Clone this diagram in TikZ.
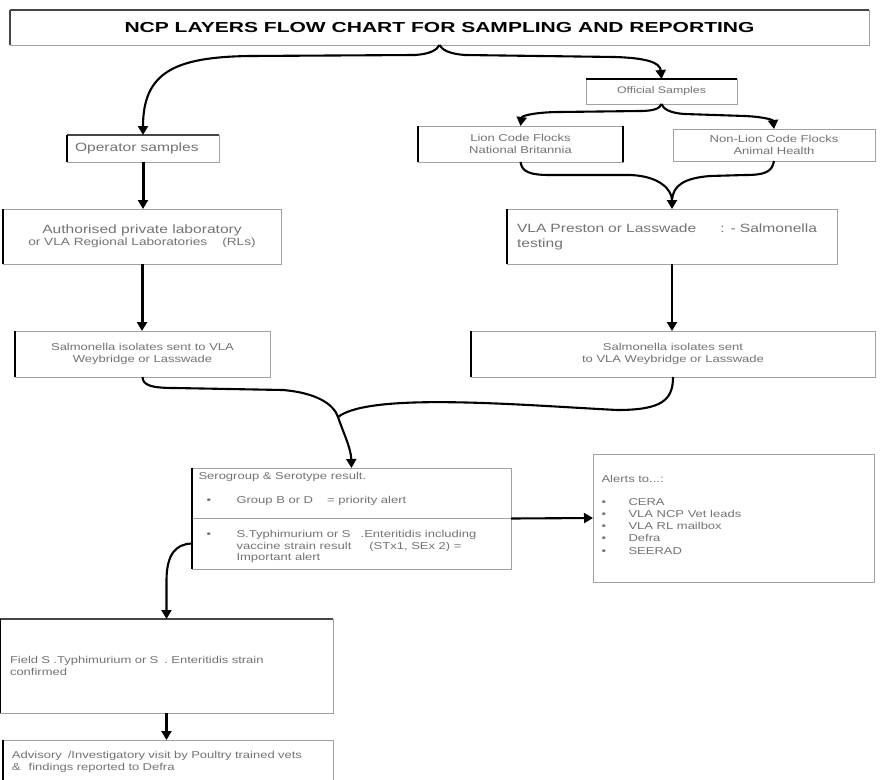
\documentclass[tikz,border=0pt]{standalone}
\usepackage{fontspec}
\setmainfont[FakeStretch=1.3]{Liberation Sans}
\newfontfamily\titlefont[FakeStretch=1.45]{Liberation Sans}
\usetikzlibrary{
  arrows.meta,
  positioning,
  calc
}
\definecolor{boxline}{RGB}{165,160,160}
\definecolor{txtgray}{RGB}{115,115,115}
\definecolor{edgedark}{RGB}{70,70,70}

\begin{document}
\begin{tikzpicture}[
            x=1pt, y=-1pt,
            box/.style={draw=boxline, line width=0.8pt, anchor=north west, inner sep=0pt, outer sep=0pt, text=txtgray, align=center},
            fbig/.style={font=\fontsize{12}{15}\selectfont},
            fmid/.style={font=\fontsize{10}{11.5}\selectfont},
            fsml/.style={font=\fontsize{9.5}{11}\selectfont},
            link/.style={line width=2.1pt},
            arr/.style={link, -{Triangle[width=10pt,length=9pt]}},
            bar/.style={line width=2.2pt}
        ]
            \path[use as bounding box, fill=white] (0,0) rectangle (880,779);
            % NCP sampling and reporting flow chart
            \node[box, minimum width=859pt, minimum height=35pt, text=black, font=\titlefont\bfseries\fontsize{14.5}{17}\selectfont] (title) at (10,10) {NCP LAYERS FLOW CHART FOR SAMPLING AND REPORTING};
            \node[box, fsml, minimum width=151pt, minimum height=25pt] (off) at (586,79) {Official Samples};
            \node[box, fbig, minimum width=152pt, minimum height=27pt, text width=136pt, align=left] (op) at (67,135) {Operator samples};
            \node[box, fmid, minimum width=205pt, minimum height=36pt] (lion) at (418,126) {Lion Code Flocks\\National Britannia};
            \node[box, fmid, minimum width=202pt, minimum height=32pt] (nlion) at (673,129) {Non-Lion Code Flocks\\Animal Health};
            \node[box, minimum width=278pt, minimum height=55pt] (auth) at (3,209) {{\fontsize{12}{15}\selectfont Authorised private laboratory}\\{\fontsize{10.5}{12}\selectfont or VLA Regional Laboratories\hspace{15pt}(RLs)}};
            \node[box, fbig, minimum width=330pt, minimum height=55pt, text width=310pt, align=left] (pres) at (507,209) {VLA Preston or Lasswade\hspace{24pt}: - Salmonella\\testing};
            \node[box, fmid, minimum width=255pt, minimum height=46pt] (lsal) at (15,331) {Salmonella isolates sent to VLA\\Weybridge or Lasswade};
            \node[box, fmid, minimum width=404pt, minimum height=46pt] (rsal) at (471,331) {Salmonella isolates sent\\to VLA Weybridge or Lasswade};
            \node[box, minimum width=319pt, minimum height=101pt] (sero) at (192,468) {};
            \node[box, minimum width=281pt, minimum height=128pt] (alert) at (593,454) {};
            \node[box, fmid, minimum width=333pt, minimum height=94pt, text width=313pt, align=left] (field) at (0,619) {Field S .Typhimurium or S\hspace{6pt}. Enteritidis strain\\confirmed};
            \node[box, fmid, minimum width=330pt, minimum height=44pt, text width=312pt, align=left] (adv) at (3,740) {Advisory\hspace{6pt}/Investigatory visit by Poultry trained vets\\\&\hspace{8pt}findings reported to Defra};

            % texts inside the result and alert boxes
            \node[anchor=west, text=txtgray, fmid] (shead) at (195,477) {Serogroup \& Serotype result.};
            \node[anchor=west, text=txtgray, fmid] (sone) at (203,501) {\makebox[30pt][l]{\textbullet}Group B or D\hspace{14pt}= priority alert};
            \node[anchor=north west, text=txtgray, fmid, align=left] (stwo) at (203,527) {\makebox[30pt][l]{\textbullet}S.Typhimurium or S\hspace{10pt}.Enteritidis including\\\hspace*{30pt}vaccine strain result\hspace{18pt}(STx1, SEx 2) =\\\hspace*{30pt}Important alert};
            \node[anchor=north west, text=txtgray, font=\fontsize{10}{12.3}\selectfont, align=left] (alist) at (598,472) {Alerts to...:\\[10pt]\makebox[27pt][l]{\textbullet}CERA\\\makebox[27pt][l]{\textbullet}VLA NCP Vet leads\\\makebox[27pt][l]{\textbullet}VLA RL mailbox\\\makebox[27pt][l]{\textbullet}Defra\\\makebox[27pt][l]{\textbullet}SEERAD};
            \draw[boxline, line width=0.8pt] (sero.west) -- (sero.east);

            % dark box edges
            \draw[bar, edgedark] (title.north west) -- (title.north east);
            \draw[bar, edgedark] (title.north west) -- (title.south west);
            \draw[bar] (off.north west) -- (off.north east);
            \draw[line width=1.2pt, edgedark] (op.north west) -- (op.north east);
            \draw[bar] (op.north west) -- (op.south west);
            \draw[bar] (lion.north west) -- (lion.south west);
            \draw[bar] (lion.north east) -- (lion.south east);
            \draw[bar] (auth.north west) -- (auth.south west);
            \draw[bar] (pres.north west) -- (pres.south west);
            \draw[bar] (lsal.north west) -- (lsal.south west);
            \draw[bar] (rsal.north west) -- (rsal.south west);
            \draw[bar] (sero.north west) -- (sero.south west);
            \draw[line width=1.2pt, edgedark] (field.north west) -- (field.north east);
            \draw[bar] (field.north west) -- (field.south west);
            \draw[bar] (adv.north west) -- (adv.south west);

            % connectors
            \draw[arr] (title.south) .. controls (437,50) and (430,54) .. (415,55) -- (250,56) .. controls (175,57) and (143,72) .. (op.north);
            \draw[arr] (title.south) .. controls (442,50) and (450,54) .. (465,55) -- (615,57) .. controls (645,58) and (660,62) .. (off.north);
            \draw[arr] (off.south) .. controls (660,108) and (655,111) .. (640,111) -- (560,112) .. controls (540,112) and (522,115) .. (lion.north);
            \draw[arr] (off.south) .. controls (663,108) and (668,113) .. (685,114) -- (745,116) .. controls (765,117) and (773,120) .. (nlion.north);
            \draw[arr] (lion.south) .. controls (522,172) and (530,175) .. (550,175) -- (630,175) .. controls (660,176) and (672,190) .. (pres.north);
            \draw[link] (nlion.south) .. controls (772,172) and (765,175) .. (745,175) -- (710,176) .. controls (685,178) and (673,185) .. ([yshift=9pt]pres.north);
            \draw[arr, line width=3pt] (op.south) -- (op.south |- auth.north);
            \draw[arr, line width=3pt] (auth.south) -- (auth.south |- lsal.north);
            \draw[arr] (pres.south) -- (pres.south |- rsal.north);
            \coordinate (mrg) at (338,417);
            \draw[link] (lsal.south) .. controls (143,385) and (150,388) .. (175,388) -- (283,390) .. controls (318,393) and (334,405) .. (mrg);
            \draw[link] (rsal.south) .. controls (673,400) and (662,410) .. (617,410) .. controls (520,405) and (370,392) .. (mrg);
            \draw[arr] (mrg) .. controls (343,432) and (351,448) .. (sero.north);
            \draw[arr] (sero.east) -- (alert.west);
            \draw[arr] ([yshift=-25pt]sero.west) .. controls (175,544) and (167,555) .. ([yshift=40pt]field.north) -- (field.north);
            \draw[arr] (field.south) -- (field.south |- adv.north);
        \end{tikzpicture}
\end{document}
